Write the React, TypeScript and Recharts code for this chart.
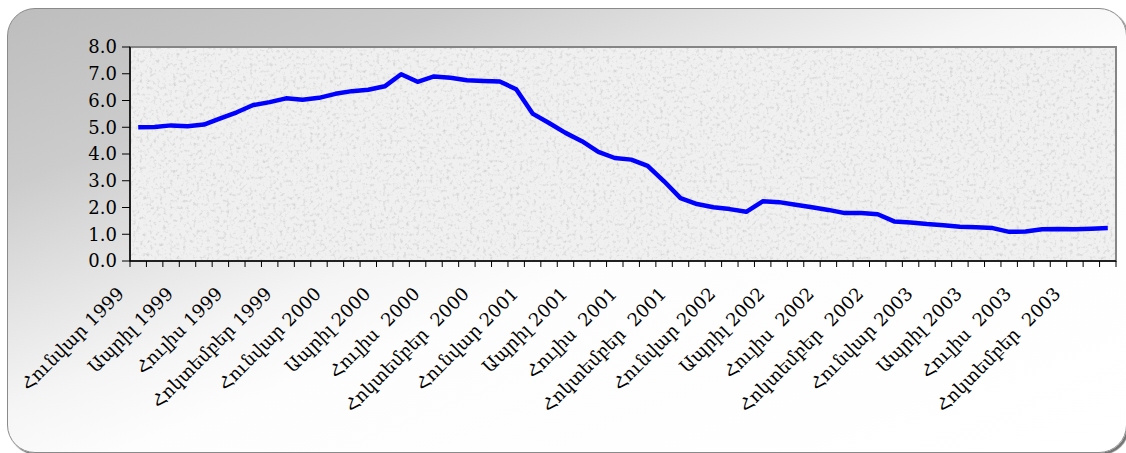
import React from 'react';
import { LineChart, Line, XAxis, YAxis, CartesianGrid, ReferenceArea } from 'recharts';

// monthly values, Jan 1999 .. Dec 2003
const values1999 = [5.0, 5.01, 5.07, 5.04, 5.1, 5.33, 5.56, 5.83, 5.94, 6.08, 6.03, 6.1];
const values2000 = [6.25, 6.35, 6.4, 6.53, 6.98, 6.7, 6.9, 6.85, 6.76, 6.73, 6.71, 6.42];
const values2001 = [5.51, 5.16, 4.79, 4.48, 4.08, 3.85, 3.79, 3.56, 2.98, 2.35, 2.13, 2.01];
const values2002 = [1.94, 1.84, 2.23, 2.2, 2.1, 2.01, 1.91, 1.79, 1.79, 1.75, 1.48, 1.44];
const values2003 = [1.38, 1.34, 1.28, 1.26, 1.23, 1.09, 1.1, 1.19, 1.2, 1.19, 1.21, 1.23];

// one label every third month
const tickLabels = [
  'Հունվար 1999', 'Ապրիլ 1999', 'Հուլիս 1999', 'Հոկտեմբեր 1999',
  'Հունվար 2000', 'Ապրիլ 2000', 'Հուլիս  2000', 'Հոկտեմբեր  2000',
  'Հունվար 2001', 'Ապրիլ 2001', 'Հուլիս  2001', 'Հոկտեմբեր  2001',
  'Հունվար 2002', 'Ապրիլ 2002', 'Հուլիս  2002', 'Հոկտեմբեր  2002',
  'Հունվար 2003', 'Ապրիլ 2003', 'Հուլիս  2003', 'Հոկտեմբեր  2003',
];

const yTicks = [0, 1, 2, 3, 4, 5, 6, 7, 8];

const values = [...values1999, ...values2000, ...values2001, ...values2002, ...values2003];
// category i sits in the middle of slot [i, i+1]
const data = values.map((v, i) => ({ x: i + 0.5, v }));
const slotTicks = Array.from({ length: values.length + 1 }, (_, i) => i);

const FONT = "'DejaVu Serif', serif";

const MonthTick = (props: any) => {
  const { x, y, payload } = props;
  const i = payload.value;
  if (i % 3 !== 0 || i / 3 >= tickLabels.length) return null;
  const ax = x - 5;
  const ay = y + 28;
  return (
    <text
      x={ax}
      y={ay}
      textAnchor="end"
      transform={`rotate(-45, ${ax}, ${ay})`}
      fontFamily={FONT}
      fontSize={18}
      fill="#000"
      style={{ whiteSpace: 'pre' }}
    >
      {tickLabels[i / 3]}
    </text>
  );
};

const PlotBack = (props: any) => {
  const { x, y, width, height } = props;
  return (
    <g>
      <rect x={x} y={y} width={width} height={height} fill="#f0f0f0" />
      <rect x={x} y={y} width={width} height={height} fill="#f0f0f0" filter="url(#grain)" />
      <rect x={x} y={y} width={width} height={height} fill="none" stroke="#858585" strokeWidth={2} />
    </g>
  );
};

export default function App() {
  return (
    <div style={{ position: 'absolute', left: 0, top: 0, width: 1126, height: 453 }}>
      <svg width={0} height={0} style={{ position: 'absolute' }}>
        <defs>
          <filter id="grain" x="0" y="0" width="100%" height="100%">
            <feTurbulence type="fractalNoise" baseFrequency="0.3" numOctaves={3} seed={7} result="t" />
            <feColorMatrix
              in="t"
              type="matrix"
              values="0 0 0 0 0.6  0 0 0 0 0.6  0 0 0 0 0.6  0 0 0 -2.2 1.05"
              result="n"
            />
            <feComposite in="n" in2="SourceGraphic" operator="in" result="c" />
            <feMerge>
              <feMergeNode in="SourceGraphic" />
              <feMergeNode in="c" />
            </feMerge>
          </filter>
        </defs>
      </svg>

      {/* rounded panel behind the chart */}
      <div
        style={{
          position: 'absolute',
          left: 7,
          top: 8,
          width: 1118,
          height: 443,
          borderRadius: 28,
          border: '1px solid #8a8a8a',
          background:
            'linear-gradient(to bottom right, #bdbdbd 0%, #cccccc 20%, #e2e2e2 33%, #f5f5f5 45%, #fdfdfd 55%, #ffffff 100%)',
          boxShadow: '2px 2px 1px rgba(0,0,0,0.55)',
        }}
      />

      <div style={{ position: 'absolute', left: 0, top: 0 }}>
        <LineChart width={1126} height={453} data={data} margin={{ top: 47, right: 10, left: 0, bottom: 0 }}>
          <ReferenceArea x1={0} x2={60} y1={0} y2={8} shape={PlotBack} ifOverflow="visible" />
          <CartesianGrid vertical={false} stroke="#3a3a3a" strokeWidth={1} />
          <XAxis
            dataKey="x"
            type="number"
            domain={[0, 60]}
            ticks={slotTicks}
            interval={0}
            height={192}
            tick={<MonthTick />}
            tickSize={6}
            tickMargin={0}
            axisLine={{ stroke: '#000', strokeWidth: 1.5 }}
            tickLine={{ stroke: '#000' }}
          />
          <YAxis
            type="number"
            domain={[0, 8]}
            ticks={yTicks}
            interval={0}
            width={130}
            tickSize={8}
            tickMargin={5}
            tickFormatter={(v: number) => v.toFixed(1)}
            tick={{ fill: '#000', fontSize: 18, fontFamily: FONT }}
            axisLine={{ stroke: '#000', strokeWidth: 1.5 }}
            tickLine={{ stroke: '#000' }}
          />
          <Line
            type="linear"
            dataKey="v"
            stroke="#0000ff"
            strokeWidth={4.5}
            strokeLinejoin="round"
            dot={false}
            isAnimationActive={false}
          />
        </LineChart>
      </div>
    </div>
  );
}
